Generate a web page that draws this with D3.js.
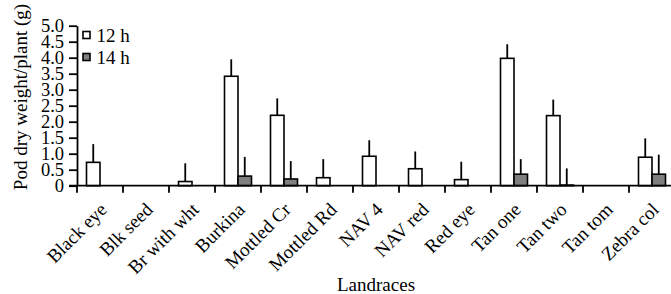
<!DOCTYPE html>
<html><head><meta charset="utf-8">
<script src="https://cdn.jsdelivr.net/npm/d3@7"></script>
<style>body{margin:0;background:#fff}svg{display:block}</style>
</head><body><svg id="c" width="671" height="294"></svg>
<script>
const categories = ["Black eye","Blk seed","Br with wht","Burkina","Mottled Cr","Mottled Rd","NAV 4","NAV red","Red eye","Tan one","Tan two","Tan tom","Zebra col"];
const series = ["12 h","14 h"];
const values12 = [0.73,null,0.13,3.42,2.20,0.25,0.92,0.53,0.19,3.98,2.19,null,0.89];
const err12    = [0.57,null,0.57,0.53,0.53,0.58,0.50,0.54,0.56,0.44,0.50,null,0.59];
const values14 = [null,null,null,0.30,0.21,null,null,null,null,0.36,0.02,null,0.36];
const err14    = [null,null,null,0.60,0.56,null,null,null,null,0.47,0.52,null,0.61];
const yTicks = [0,0.5,1,1.5,2,2.5,3,3.5,4,4.5,5];
const yTickLabels = ["0","0.5","1.0","1.5","2.0","2.5","3.0","3.5","4.0","4.5","5.0"];

const FONT = "'Liberation Serif', 'Times New Roman', Times, serif";
const svg = d3.select("#c");
const x0 = 77, step = 46;
const x = d3.scaleBand().domain(categories).range([x0, x0 + step*categories.length]).paddingInner(0).paddingOuter(0);
const xs = d3.scaleBand().domain(series).range([9.5, step-9.5]);
const y = d3.scaleLinear().domain([0,5]).range([185.7, 25.7]);
const fills = {"12 h":"#ffffff","14 h":"#7f7f7f"};

// bars
const data = [];
categories.forEach((c,i)=>{
  if (values12[i]!=null) data.push({c, s:"12 h", v:values12[i], e:err12[i]});
  if (values14[i]!=null) data.push({c, s:"14 h", v:values14[i], e:err14[i]});
});
const g = svg.append("g");
g.selectAll("line.err").data(data).join("line")
  .attr("x1", d=>x(d.c)+xs(d.s)+xs.bandwidth()/2)
  .attr("x2", d=>x(d.c)+xs(d.s)+xs.bandwidth()/2)
  .attr("y1", d=>y(d.v)).attr("y2", d=>y(d.v+d.e))
  .attr("stroke","#000").attr("stroke-width",1.8);
g.selectAll("rect").data(data).join("rect")
  .attr("x", d=>x(d.c)+xs(d.s)).attr("width", xs.bandwidth())
  .attr("y", d=>y(d.v)).attr("height", d=>y(0)-y(d.v))
  .attr("fill", d=>fills[d.s]).attr("stroke","#000").attr("stroke-width",1.6);

// y axis
const ya = svg.append("g").attr("transform",`translate(${x0},0)`)
  .call(d3.axisLeft(y).tickValues(yTicks).tickFormat((d,i)=>yTickLabels[i]).tickSize(8).tickSizeOuter(0).tickPadding(5));
ya.attr("font-family", FONT);
ya.select(".domain").attr("stroke-width",1.8);
ya.selectAll(".tick line").attr("stroke-width",1.8);
ya.selectAll("text").style("font-family",FONT).style("font-size","18.5px").attr("dy","0.34em");

// x axis
svg.append("line").attr("x1",69).attr("x2",671).attr("y1",y(0)).attr("y2",y(0)).attr("stroke","#000").attr("stroke-width",1.8);
const bounds = d3.range(categories.length+1).map(i=>x0+i*step);
svg.selectAll("line.xt").data(bounds).join("line").attr("class","xt")
  .attr("x1",d=>d).attr("x2",d=>d).attr("y1",y(0)).attr("y2",y(0)+7)
  .attr("stroke","#000").attr("stroke-width",1.8);
svg.selectAll("text.xl").data(categories).join("text").attr("class","xl")
  .attr("text-anchor","end")
  .attr("transform",d=>`translate(${x(d)+x.bandwidth()/2+8},${y(0)+25}) rotate(-45)`)
  .style("font-family",FONT).style("font-size","19px").text(d=>d);

// titles
svg.append("text").attr("text-anchor","middle")
  .attr("transform","translate(26.5,97) rotate(-90)")
  .style("font-family",FONT).style("font-size","19px").text("Pod dry weight/plant (g)");
svg.append("text").attr("text-anchor","middle").attr("x",376).attr("y",291)
  .style("font-family",FONT).style("font-size","19px").text("Landraces");

// legend
const lg = svg.append("g");
series.forEach((s,i)=>{
  lg.append("rect").attr("x",83).attr("y",31.5+i*22).attr("width",7).attr("height",7)
    .attr("fill",fills[s]).attr("stroke","#000").attr("stroke-width",1.6);
  lg.append("text").attr("x",96.5).attr("y",41.5+i*22)
    .style("font-family",FONT).style("font-size","19px").text(s);
});
</script></body></html>
